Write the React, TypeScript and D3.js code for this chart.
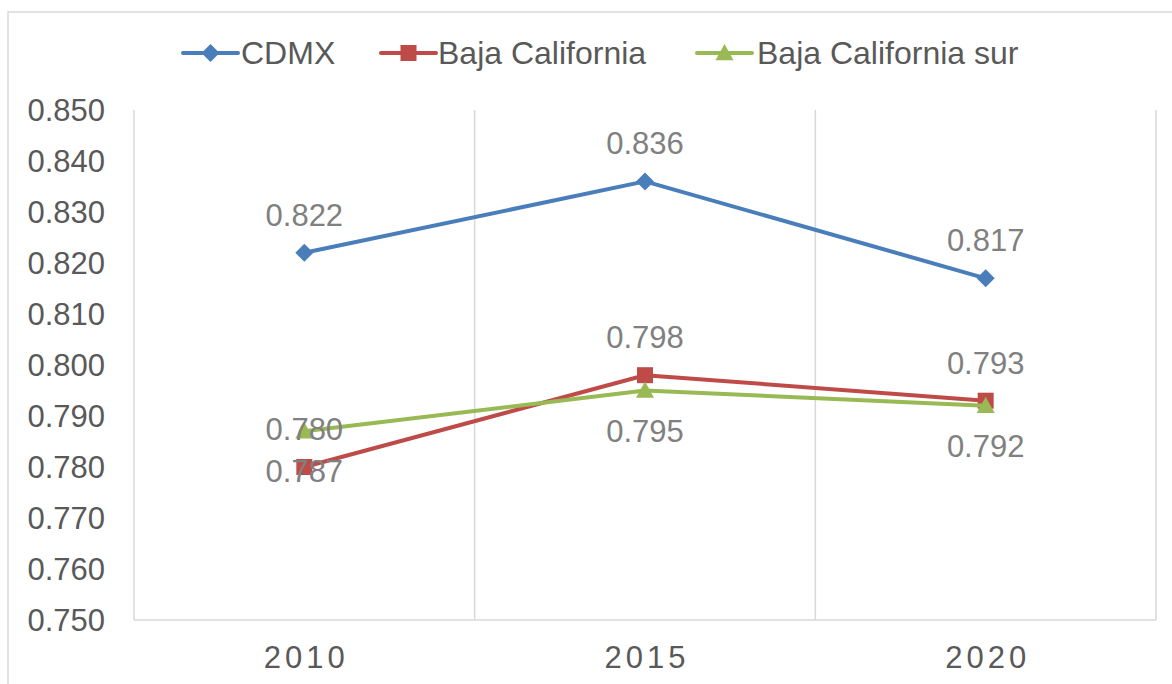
import React from "react";
import * as d3 from "d3";

const categories = ["2010", "2015", "2020"];
const seriesNames = ["CDMX", "Baja California", "Baja California sur"];
const cdmx = [0.822, 0.836, 0.817];
const bajaCalifornia = [0.78, 0.798, 0.793];
const bajaCaliforniaSur = [0.787, 0.795, 0.792];
const yTicks = [0.75, 0.76, 0.77, 0.78, 0.79, 0.8, 0.81, 0.82, 0.83, 0.84, 0.85];

const colors = ["#4A7EBB", "#BE4B48", "#98B954"];
const markers = ["diamond", "square", "triangle"];
const labelPos = ["above", "above", "below"];

const W = 1172;
const H = 684;
const font = "'Liberation Sans', Arial, sans-serif";

export default function App() {
  const x = d3.scaleBand<string>().domain(categories).range([134, 1156]);
  const y = d3.scaleLinear().domain([0.75, 0.85]).range([620, 110]);
  const data = [cdmx, bajaCalifornia, bajaCaliforniaSur];
  const line = d3
    .line<number>()
    .x((_, i) => (x(categories[i]) as number) + x.bandwidth() / 2)
    .y((d) => y(d));

  const marker = (type: string, cx: number, cy: number, color: string, key: string) => {
    if (type === "diamond") {
      const s = 9;
      return (
        <path key={key} d={`M${cx},${cy - s}L${cx + s},${cy}L${cx},${cy + s}L${cx - s},${cy}Z`} fill={color} />
      );
    }
    if (type === "square") {
      const s = 8;
      return <rect key={key} x={cx - s} y={cy - s} width={2 * s} height={2 * s} fill={color} />;
    }
    const s = 9;
    return (
      <path key={key} d={`M${cx},${cy - s}L${cx + s},${cy + s * 0.8}L${cx - s},${cy + s * 0.8}Z`} fill={color} />
    );
  };

  const boundaries = [...categories.map((c) => x(c) as number), 1156];

  const legendItems = [
    { lineX: 183, textX: 241 },
    { lineX: 381, textX: 438 },
    { lineX: 697, textX: 757 },
  ];

  return (
    <svg
      width={W}
      height={H}
      style={{ position: "fixed", left: 0, top: 0, background: "#fff" }}
      fontFamily={font}
    >
      <rect x={0} y={0} width={W} height={H} fill="#fff" />
      <rect x={8} y={12} width={1200} height={720} fill="none" stroke="#D9D9D9" strokeWidth={1.5} />
      {boundaries.map((bx, i) => (
        <line key={i} x1={bx} x2={bx} y1={y(0.85)} y2={y(0.75)} stroke="#D9D9D9" strokeWidth={1.5} />
      ))}
      <line x1={134} x2={1156} y1={y(0.75)} y2={y(0.75)} stroke="#D9D9D9" strokeWidth={1.5} />
      {yTicks.map((t) => (
        <text key={t} x={105} y={y(t)} dy="0.35em" textAnchor="end" fontSize={31} fill="#595959">
          {d3.format(".3f")(t)}
        </text>
      ))}
      {categories.map((c) => (
        <text
          key={c}
          x={(x(c) as number) + x.bandwidth() / 2 + 2}
          y={668}
          textAnchor="middle"
          fontSize={31}
          letterSpacing={4}
          fill="#595959"
        >
          {c}
        </text>
      ))}
      {data.map((vals, si) => (
        <g key={si}>
          <path d={line(vals) || ""} fill="none" stroke={colors[si]} strokeWidth={4} strokeLinejoin="round" />
          {vals.map((v, i) =>
            marker(markers[si], (x(categories[i]) as number) + x.bandwidth() / 2, y(v), colors[si], `m${si}-${i}`)
          )}
        </g>
      ))}
      {data.map((vals, si) =>
        vals.map((v, i) => (
          <text
            key={`l${si}-${i}`}
            x={(x(categories[i]) as number) + x.bandwidth() / 2}
            y={labelPos[si] === "above" ? y(v) - 27 : y(v) + 51}
            textAnchor="middle"
            fontSize={31}
            fill="#808080"
          >
            {d3.format(".3f")(v)}
          </text>
        ))
      )}
      {seriesNames.map((name, si) => {
        const it = legendItems[si];
        return (
          <g key={name}>
            <line x1={it.lineX} x2={it.lineX + 55} y1={53} y2={53} stroke={colors[si]} strokeWidth={4} strokeLinecap="round" />
            {marker(markers[si], it.lineX + 27.5, 53, colors[si], `lg${si}`)}
            <text x={it.textX} y={53} dy="0.35em" fontSize={32} fill="#595959">
              {name}
            </text>
          </g>
        );
      })}
    </svg>
  );
}
